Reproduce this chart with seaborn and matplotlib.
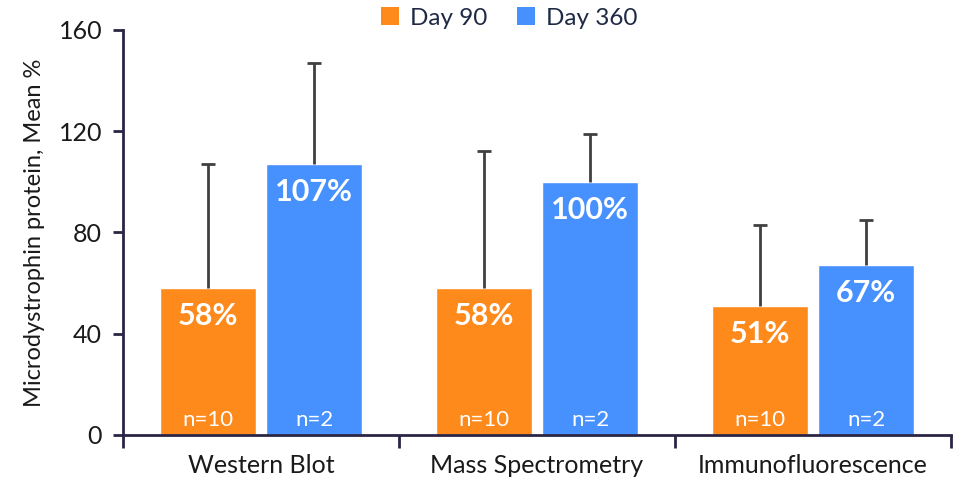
import matplotlib
matplotlib.use("Agg")
import matplotlib.pyplot as plt
from matplotlib.patches import Patch
import seaborn as sns
import pandas as pd
import numpy as np

categories = ["Western Blot", "Mass Spectrometry", "Immunofluorescence"]
groups = ["Day 90", "Day 360"]
day90_mean = [58, 58, 51]
day360_mean = [107, 100, 67]
day90_err = [49, 54, 32]
day360_err = [40, 19, 18]
day90_n = ["n=10", "n=10", "n=10"]
day360_n = ["n=2", "n=2", "n=2"]
yticks = [0, 40, 80, 120, 160]

colors = {"Day 90": "#FF8A1C", "Day 360": "#4791FF"}
axis_color = "#2B2545"
text_color = "#1a1a1a"

df = pd.DataFrame({
    "cat": categories * 2,
    "group": ["Day 90"] * 3 + ["Day 360"] * 3,
    "val": day90_mean + day360_mean,
    "err": day90_err + day360_err,
    "n": day90_n + day360_n,
})

sns.set_theme(style="white")
plt.rcParams["font.family"] = ["Lato", "DejaVu Sans"]

fig = plt.figure(figsize=(9.61, 4.83), dpi=100)
ax = fig.add_axes([0.128, 0.0994, 0.8616, 0.8385])

sns.barplot(data=df, x="cat", y="val", hue="group", order=categories,
            hue_order=groups, palette=colors, width=0.77, gap=0.10,
            errorbar=None, legend=False, ax=ax, saturation=1)

# annotate bars
for gi, g in enumerate(groups):
    container = ax.containers[gi]
    sub = df[df["group"] == g].set_index("cat").loc[categories]
    for bar, (_, row) in zip(container, sub.iterrows()):
        x = bar.get_x() + bar.get_width() / 2
        h = bar.get_height()
        eb = ax.errorbar([x], [h], yerr=[[0], [row["err"]]], fmt="none",
                         ecolor="#404040", elinewidth=2, capsize=5,
                         capthick=2, zorder=1)
        caps = eb[1]
        if len(caps) == 2:
            caps[0].remove()
        ax.text(x, h - 11, f"{int(row['val'])}%", ha="center", va="center",
                color="white", fontsize=22, fontweight="bold")
        ax.text(x, 6, row["n"], ha="center", va="center",
                color="white", fontsize=16)

ax.set_xlim(-0.5, 2.5)
ax.set_ylim(0, 160)
ax.set_yticks(yticks)
ax.set_yticklabels([str(t) for t in yticks], fontsize=18, color=text_color)
ax.set_xticks(range(3))
ax.set_xticklabels(categories, fontsize=18, color=text_color)
ax.set_xticks([-0.5, 0.5, 1.5, 2.5], minor=True)
ax.tick_params(axis="x", which="major", length=0, pad=14)
ax.tick_params(axis="x", which="minor", length=9, width=2, color=axis_color,
               direction="out", bottom=True)
ax.tick_params(axis="y", which="major", length=7, width=2, color=axis_color,
               direction="out", left=True, pad=8)
ax.set_xlabel("")
ax.set_ylabel("Microdystrophin protein, Mean %", fontsize=17,
              color=text_color, labelpad=10)

for s in ["top", "right"]:
    ax.spines[s].set_visible(False)
for s in ["left", "bottom"]:
    ax.spines[s].set_color(axis_color)
    ax.spines[s].set_linewidth(2)

handles = [Patch(facecolor=colors[g], edgecolor="none") for g in groups]
fig.legend(handles, groups, loc="upper center", bbox_to_anchor=(0.53, 1.03),
           ncol=2, frameon=False, fontsize=17.5, handlelength=0.75,
           handleheight=0.75, handletextpad=0.45, columnspacing=1.2,
           labelcolor="#1f2a44")

fig.savefig("out.png", dpi=100)
